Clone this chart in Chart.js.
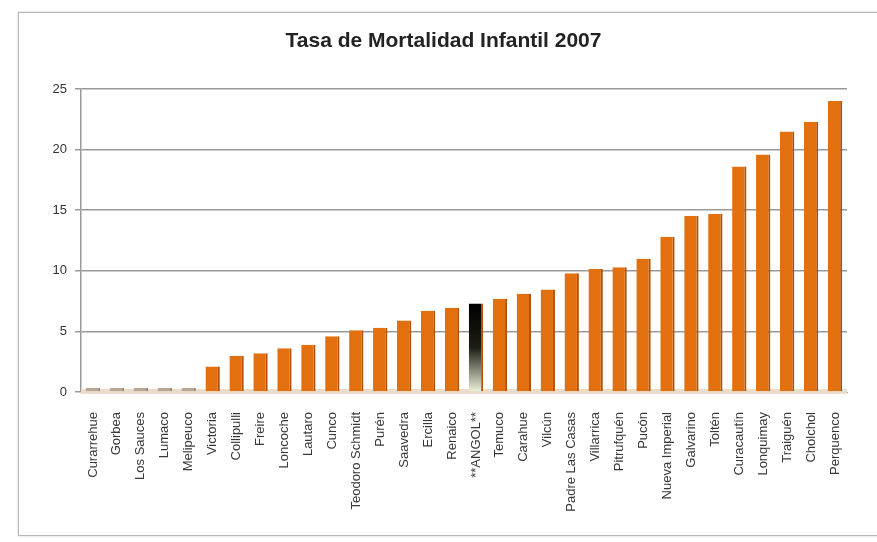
<!DOCTYPE html>
<html><head><meta charset="utf-8">
<script src="https://cdn.jsdelivr.net/npm/chart.js@4"></script>
<style>
html,body{margin:0;padding:0;background:#fff;}
#frame{position:absolute;left:18px;top:12px;width:880px;height:522px;border:1px solid #b8b8b8;box-shadow:0 0 2px #ccc;}
#wrap{position:absolute;left:0;top:0;width:877px;height:542px;}
</style></head>
<body>
<div id="frame"></div>
<div id="wrap"><canvas id="c" width="877" height="542"></canvas></div>
<script>
const categories = ["Curarrehue","Gorbea","Los Sauces","Lumaco","Melipeuco","Victoria","Collipulli","Freire","Loncoche","Lautaro","Cunco","Teodoro Schmidt","Purén","Saavedra","Ercilla","Renaico","**ANGOL**","Temuco","Carahue","Vilcún","Padre Las Casas","Villarrica","Pitrufquén","Pucón","Nueva Imperial","Galvarino","Toltén","Curacautín","Lonquimay","Traiguén","Cholchol","Perquenco"];
const tasa = [0,0,0,0,0,2.1,3.0,3.2,3.6,3.9,4.6,5.1,5.3,5.9,6.7,6.95,7.3,7.7,8.1,8.45,9.8,10.15,10.3,11.0,12.8,14.55,14.7,18.6,19.6,21.5,22.3,24.0];
const yTicks = [0,5,10,15,20,25];
const titleText = "Tasa de Mortalidad Infantil 2007";

const floorPlugin = {
  id:'floor',
  beforeDatasetsDraw(chart){
    const {ctx, chartArea:a, scales:{y}} = chart;
    const y0 = y.getPixelForValue(0);
    ctx.save();
    ctx.fillStyle = '#e9dccb';
    ctx.fillRect(a.left, y0-3, a.right-a.left, 5);
    ctx.restore();
  }
};

new Chart(document.getElementById('c'), {
  type:'bar',
  data:{
    labels:categories,
    datasets:[{
      data:tasa,
      minBarLength:4,
      barPercentage:0.6,
      categoryPercentage:1.0,
      borderWidth:{left:0,right:2,top:0,bottom:0},
      borderColor:(c)=> c.raw===0 ? '#9a8878' : '#b0500a',
      backgroundColor:(c)=>{
        const chart=c.chart; const a=chart.chartArea;
        if(c.raw===0) return '#b9a694';
        if(categories[c.dataIndex]==='**ANGOL**' && a){
          const g=chart.ctx.createLinearGradient(0,chart.scales.y.getPixelForValue(7.3),0,a.bottom);
          g.addColorStop(0,'#000000');
          g.addColorStop(0.5,'#1e1e14');
          g.addColorStop(1,'#eef3dc');
          return g;
        }
        return '#e3700f';
      }
    }]
  },
  options:{
    responsive:false,
    animation:false,
    layout:{padding:{top:25,right:30,left:40,bottom:4}},
    plugins:{
      legend:{display:false},
      tooltip:{enabled:false},
      title:{display:true,text:titleText,color:'#222',font:{family:'Liberation Sans',size:21,weight:'bold'},padding:{top:4,bottom:34.8}}
    },
    scales:{
      x:{
        grid:{display:false},
        border:{color:'#9a9a9a'},
        ticks:{autoSkip:false,maxRotation:90,minRotation:90,color:'#383838',font:{family:'Liberation Sans',size:13},padding:12},
        afterFit(s){ s.height = 146; }
      },
      y:{
        min:0,max:25,
        afterBuildTicks(s){ s.ticks = yTicks.map(v=>({value:v})); },
        grid:{color:'#9a9a9a',lineWidth:1.5,drawTicks:true,tickLength:6},
        border:{color:'#9a9a9a',width:1.5},
        ticks:{color:'#333',font:{family:'Liberation Sans',size:13},padding:8},
        afterFit(s){ s.width = 41; }
      }
    }
  },
  plugins:[floorPlugin]
});
</script>
</body></html>
